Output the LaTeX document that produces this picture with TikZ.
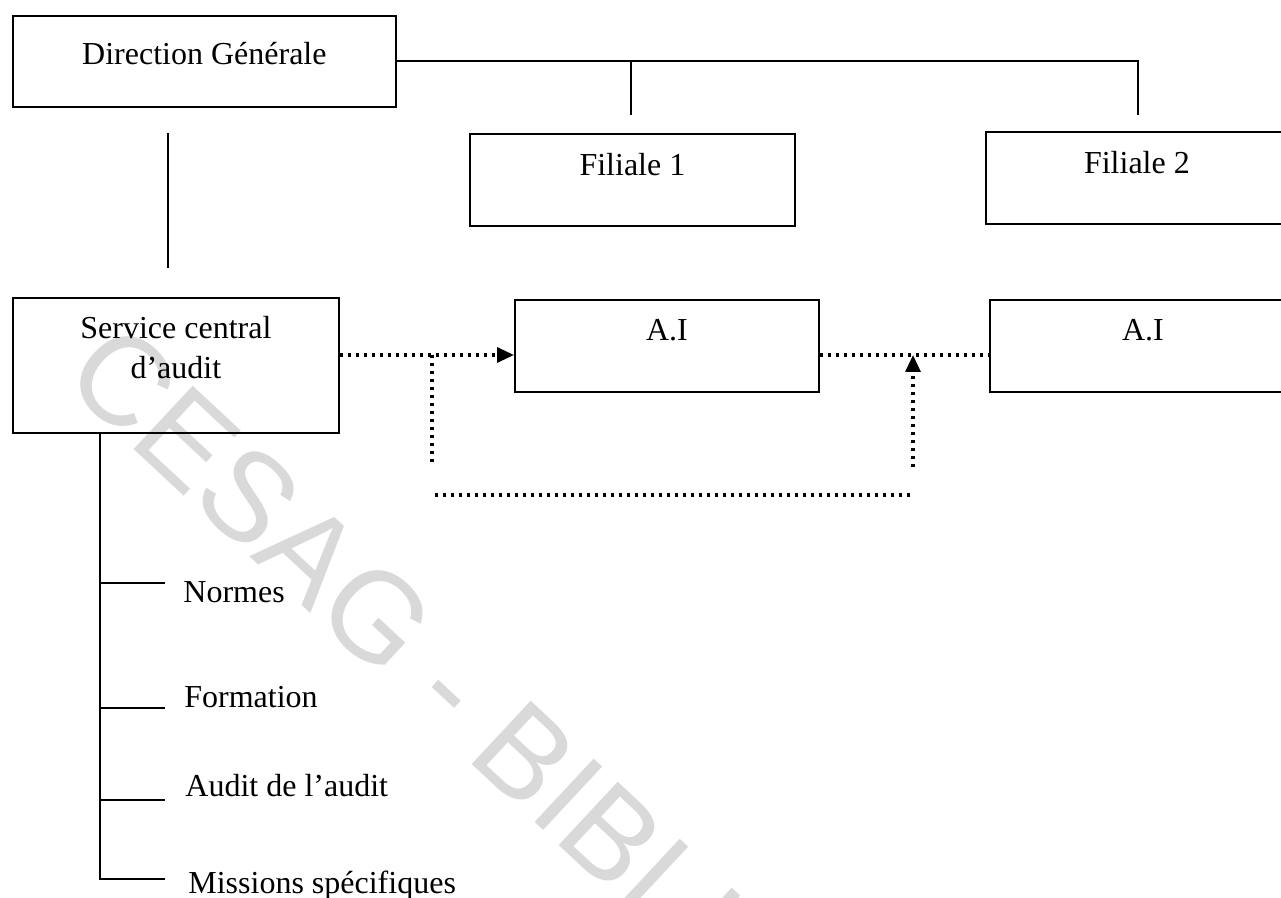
\documentclass[tikz,border=0pt]{standalone}
\usepackage{fontspec}
\setmainfont{Liberation Serif}
\newfontfamily\filigrane{Liberation Sans}
\usetikzlibrary{arrows.meta,positioning}

\begin{document}
\begin{tikzpicture}[x=0.5pt,y=-0.5pt,
    boite/.style={draw,line width=0.9pt,inner sep=0pt,anchor=north west,
      font=\fontsize{16}{20}\selectfont},
    texte/.style={inner sep=0pt,font=\fontsize{16}{20}\selectfont},
    trait/.style={line width=0.9pt},
    pointille/.style={line width=1.6pt,dash pattern=on 1.6pt off 2.4pt},
    fleche/.style={-{Triangle[length=8.5pt,width=7.5pt]}}]

    % cadre de la page (1 unite = 1 px)
    \useasboundingbox (0,0) rectangle (1281,898);
    \clip (0,0) rectangle (1281,898);

    % filigrane
    \node[inner sep=0pt,anchor=base west,rotate=-43,text=black!15,
      font=\filigrane\fontsize{63}{63}\selectfont] (wm) at (60,380)
      {CESAG - BIBLIOTHEQUE};

    % boites
    \node[boite,minimum width=191.5pt,text height=24.5pt,text depth=21pt] (DG) at (12,15) {Direction Générale};
    \node[boite,minimum width=162.5pt,text height=21pt,text depth=25pt] (F1) at (469,133) {Filiale 1};
    \node[boite,minimum width=151pt,text height=21pt,text depth=25pt] (F2) at (985,131) {Filiale 2};
    \node[boite,minimum width=163pt,text height=20.5pt,text depth=47pt] (SCA) at (12,297)
      {\begin{tabular}[t]{@{}c@{}}Service central\\d’audit\end{tabular}};
    \node[boite,minimum width=152pt,text height=20.5pt,text depth=25.5pt] (AI1) at (514,299) {A.I};
    \node[boite,minimum width=153pt,text height=20.5pt,text depth=25.5pt] (AI2) at (989,299) {A.I};

    % liaisons hierarchiques
    \coordinate (b1) at (631,115);
    \coordinate (b2) at (1138,115);
    \draw[trait] (DG.east) -| (b2);
    \draw[trait] (DG.east -| b1) -- (b1);

    \coordinate (v1) at (168,133);
    \coordinate (v2) at (168,268);
    \draw[trait] (v1) -- (v2);

    % liaisons fonctionnelles (pointilles)
    \coordinate (niv) at (0,355);
    \coordinate (g1) at (432,463);
    \coordinate (d1) at (913,467);
    \coordinate (h1) at (435,495);
    \coordinate (h2) at (913,495);

    \draw[pointille,fleche] (SCA.east |- niv) -- (AI1.west |- niv);
    \draw[pointille] (AI1.east |- niv) -- (AI2.west |- niv);
    \draw[pointille] (g1 |- niv) -- (g1);
    \draw[pointille] (h1) -- (h2);
    \draw[pointille,fleche] (d1) -- (d1 |- niv);

    % missions du service central
    \coordinate (arbre) at (100,880);
    \draw[trait] (SCA.south -| arbre) -- (arbre);
    \foreach \yb/\yt/\xt/\nom [count=\i] in {583/603/183/Normes, 708/707/184/Formation,
        800/796/185/Audit de l’audit, 879/893/188/Missions spécifiques} {
      \draw[trait] (100,\yb) -- (165,\yb);
      \node[texte,anchor=base west] (m\i) at (\xt,\yt) {\nom};
    }
\end{tikzpicture}
\end{document}
